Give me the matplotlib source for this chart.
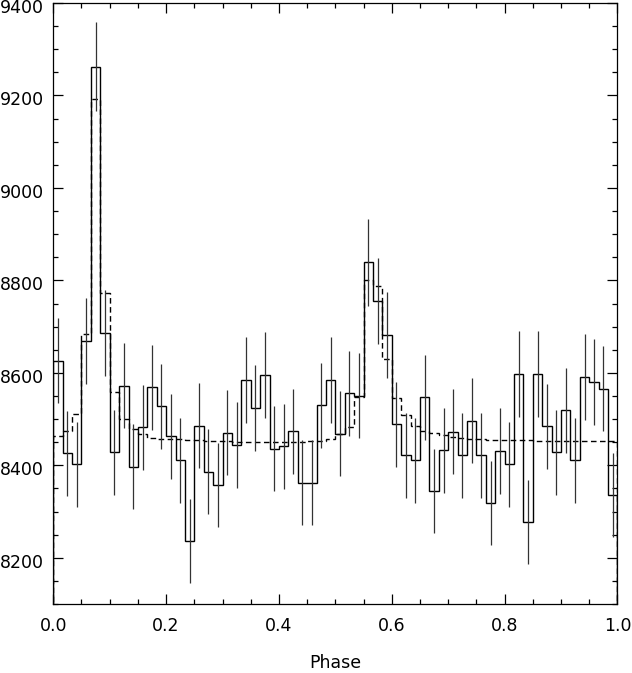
"""Pulse profile: folded counts per phase bin with model."""

import numpy as np
import matplotlib
matplotlib.use("Agg")
import matplotlib.pyplot as plt
import matplotlib.transforms as mtransforms
from matplotlib.ticker import MultipleLocator

# counts per phase bin (60 bins over one cycle)
counts = [
    8626, 8426, 8402, 8669, 9262, 8687, 8428, 8572, 8397, 8482,
    8569, 8528, 8463, 8411, 8236, 8486, 8386, 8358, 8471, 8444,
    8585, 8524, 8595, 8436, 8441, 8474, 8362, 8362, 8530, 8585,
    8468, 8556, 8551, 8839, 8755, 8682, 8489, 8422, 8411, 8547,
    8345, 8433, 8473, 8422, 8496, 8422, 8319, 8431, 8402, 8598,
    8278, 8598, 8485, 8428, 8519, 8411, 8591, 8580, 8566, 8335,
]
errors = [
    92, 92, 92, 93, 96, 93, 92, 92, 92, 92,
    92, 92, 92, 92, 91, 92, 92, 91, 92, 92,
    93, 92, 93, 92, 92, 92, 92, 92, 92, 93,
    92, 92, 92, 94, 93, 93, 92, 92, 92, 92,
    91, 92, 92, 92, 92, 92, 91, 92, 92, 93,
    91, 93, 92, 92, 92, 92, 93, 93, 92, 91,
]
model = [
    8464, 8475, 8510, 8683, 9193, 8772, 8559, 8501, 8478, 8467,
    8460, 8458, 8457, 8456, 8455, 8454, 8453, 8452, 8452, 8451,
    8451, 8451, 8451, 8451, 8451, 8451, 8451, 8452, 8453, 8458,
    8467, 8482, 8548, 8801, 8788, 8631, 8545, 8508, 8486, 8475,
    8470, 8465, 8462, 8460, 8458, 8456, 8455, 8455, 8454, 8454,
    8454, 8453, 8453, 8453, 8453, 8452, 8452, 8452, 8452, 8452,
]

edges = np.linspace(0.0, 1.0, len(counts) + 1)
centers = 0.5 * (edges[:-1] + edges[1:])

plt.rcParams["font.family"] = ["DejaVu Sans"]

fig = plt.figure(figsize=(6.32, 6.73), dpi=100)
ax = fig.add_axes([0.0843, 0.1025, 0.8927, 0.893])

ax.stairs(model, edges, color="black", lw=1.0, linestyle=(0, (4, 2.5)))
ax.errorbar(centers, counts, yerr=errors, fmt="none", ecolor="#333333",
            elinewidth=0.9, capsize=0)
ax.stairs(counts, edges, color="black", lw=1.0)

ax.set_xlim(0, 1)
ax.set_ylim(8100, 9400)
ax.xaxis.set_major_locator(MultipleLocator(0.2))
ax.xaxis.set_minor_locator(MultipleLocator(0.05))
ax.yaxis.set_major_locator(MultipleLocator(200))
ax.yaxis.set_minor_locator(MultipleLocator(50))
ax.xaxis.set_major_formatter(lambda v, p: f"{v:.1f}")
ax.tick_params(which="both", direction="in", top=True, right=True,
               labelsize=12.5, width=0.9)
ax.tick_params(which="major", length=7)
ax.tick_params(which="minor", length=3.5)
ax.tick_params(axis="x", pad=9)
ax.tick_params(axis="y", pad=6.5)
for s in ax.spines.values():
    s.set_linewidth(0.9)

# y labels sit a little below their ticks, as in the original
shift = mtransforms.ScaledTranslation(0, -3 / 100, fig.dpi_scale_trans)
for lbl in ax.get_yticklabels():
    lbl.set_transform(lbl.get_transform() + shift)

ax.set_xlabel("Phase", fontsize=12.5, labelpad=14)

fig.savefig("out.png", dpi=100)
